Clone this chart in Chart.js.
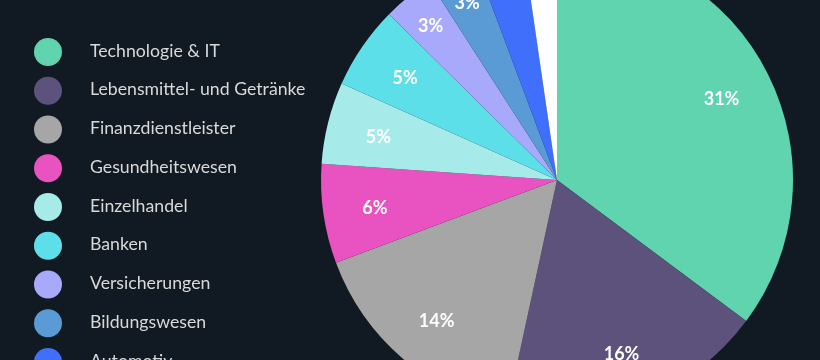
<!DOCTYPE html>
<html>
<head>
<meta charset="utf-8">
<script src="https://cdn.jsdelivr.net/npm/chart.js@4/dist/chart.umd.min.js"></script>
<style>
  html, body { margin: 0; padding: 0; background: #111a22; overflow: hidden; }
  #wrap { position: relative; width: 820px; height: 360px; overflow: hidden; background: #111a22; }
  #box { position: absolute; left: 0; top: -56px; width: 820px; height: 472px; }
</style>
</head>
<body>
<div id="wrap"><div id="box"><canvas id="c" width="820" height="472"></canvas></div></div>
<script>
// Categories (clockwise from top)
const categories = [
  "Technologie & IT",
  "Lebensmittel- und Getränke",
  "Finanzdienstleister",
  "Gesundheitswesen",
  "Einzelhandel",
  "Banken",
  "Versicherungen",
  "Bildungswesen",
  "Automotiv",
  "Sonstige"
];
// Slice sizes (share of the full circle, %)
const shares = [35.2, 18.2, 15.9, 6.8, 5.6, 5.7, 3.5, 3.4, 3.4, 2.3];
// Percentage labels printed on the slices
const shareLabels = ["31%", "16%", "14%", "6%", "5%", "5%", "3%", "3%", "", ""];
const colors = ["#5fd4ae", "#5c527c", "#a6a6a6", "#e853c1", "#a6ebe9",
                "#5ddfe9", "#a9a9fc", "#5b9bd5", "#3f6ffb", "#ffffff"];

const sliceLabelPlugin = {
  id: 'sliceLabels',
  afterDatasetsDraw(chart) {
    const ctx = chart.ctx;
    const meta = chart.getDatasetMeta(0);
    ctx.save();
    ctx.fillStyle = '#ffffff';
    ctx.font = 'bold 18px Lato, "Open Sans", sans-serif';
    ctx.textAlign = 'center';
    ctx.textBaseline = 'middle';
    meta.data.forEach((arc, i) => {
      const txt = shareLabels[i];
      if (!txt) return;
      const p = arc.getProps(['x', 'y', 'startAngle', 'endAngle', 'outerRadius'], true);
      const mid = (p.startAngle + p.endAngle) / 2;
      const span = p.endAngle - p.startAngle;
      const r = p.outerRadius * (span < 0.27 ? 0.85 : 0.78);
      ctx.fillText(txt, p.x + Math.cos(mid) * r, p.y + Math.sin(mid) * r + 2);
    });
    ctx.restore();
  }
};

const legendPlugin = {
  id: 'sideLegend',
  afterDraw(chart) {
    const ctx = chart.ctx;
    const labels = chart.data.labels;
    const bg = chart.data.datasets[0].backgroundColor;
    ctx.save();
    ctx.font = '17.7px Lato, "Open Sans", sans-serif';
    ctx.textBaseline = 'middle';
    ctx.textAlign = 'left';
    labels.forEach((lab, i) => {
      const y = 56 + 52 + i * 38.75;
      ctx.beginPath();
      ctx.arc(48, y, 14, 0, Math.PI * 2);
      ctx.fillStyle = bg[i];
      ctx.fill();
      ctx.fillStyle = '#d9d9d9';
      ctx.fillText(lab, 90, y - 1);
    });
    ctx.restore();
  }
};

new Chart(document.getElementById('c'), {
  type: 'pie',
  data: {
    labels: categories,
    datasets: [{
      data: shares,
      backgroundColor: colors,
      borderWidth: 0
    }]
  },
  options: {
    responsive: false,
    animation: false,
    layout: { padding: { left: 321, right: 27, top: 0, bottom: 0 } },
    plugins: {
      legend: { display: false },
      tooltip: { enabled: false }
    }
  },
  plugins: [sliceLabelPlugin, legendPlugin]
});
</script>
</body>
</html>
